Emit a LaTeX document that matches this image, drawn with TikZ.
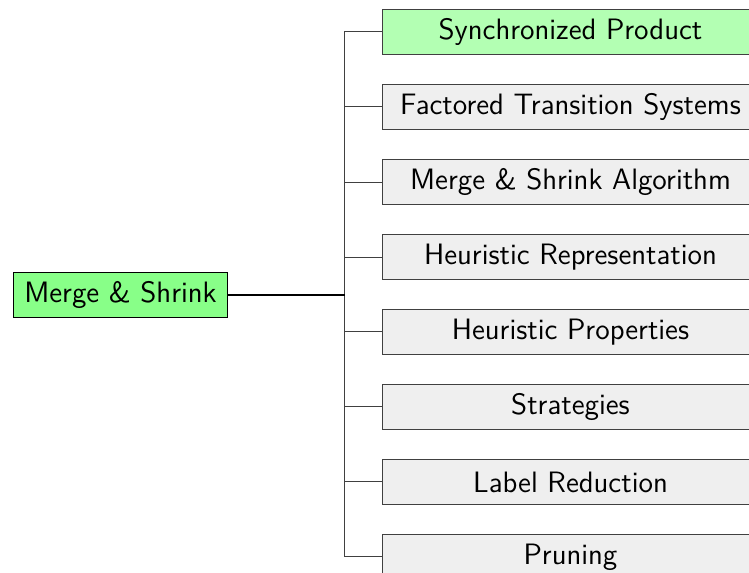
\documentclass[tikz,border=0pt]{standalone}
\usepackage{tikz}
\usetikzlibrary{positioning}
\definecolor{rootgreen}{HTML}{88FF88}
\definecolor{syncgreen}{HTML}{B3FFB3}
\definecolor{boxgray}{HTML}{EFEFEF}
\tikzset{
  rootbox/.style={draw=black, fill=rootgreen, minimum width=85.2pt, minimum height=17.6pt, inner sep=0pt, font=\sffamily\fontsize{11.8}{13}\selectfont},
  topicbox/.style={draw=black!75, minimum width=150.4pt, minimum height=18pt, inner sep=0pt, anchor=west, font=\sffamily\fontsize{11.8}{13}\selectfont}
}

\begin{document}
\begin{tikzpicture}[x=0.4pt,y=-0.4pt]
\useasboundingbox (0,0) rectangle (749,573);
\node[rootbox] (ms) at (120.5,295) {Merge \& Shrink};
\coordinate (trunk) at (345,295);
\foreach \lbl/\col [count=\i] in {Synchronized Product/syncgreen, Factored Transition Systems/boxgray, Merge \& Shrink Algorithm/boxgray, Heuristic Representation/boxgray, Heuristic Properties/boxgray, Strategies/boxgray, Label Reduction/boxgray, Pruning/boxgray} {
 \node[topicbox, fill=\col] (t\i) at (382,32+75*\i-75) {\lbl};
 \draw[black!75] (trunk) |- (t\i.west);
}
\draw[thick] (ms.east) -- (trunk);
\end{tikzpicture}
\end{document}
